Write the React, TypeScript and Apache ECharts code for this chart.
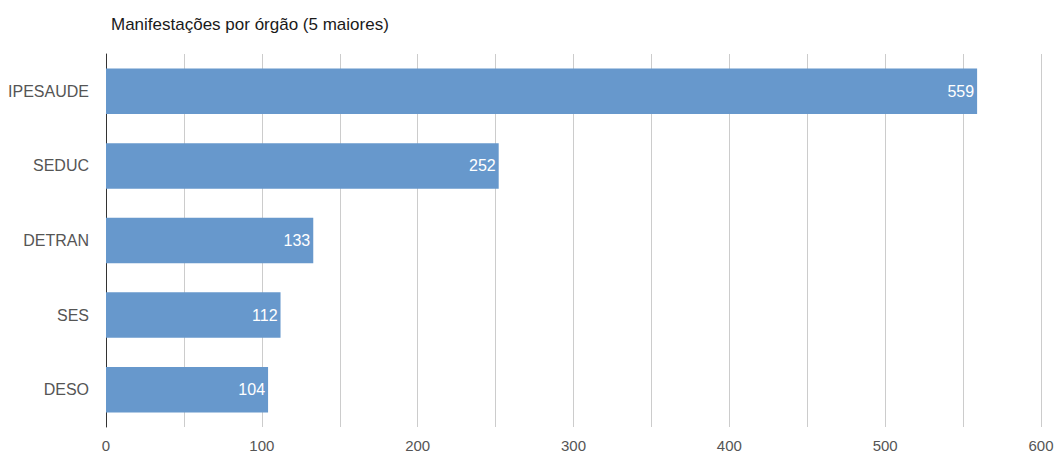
import React, { useEffect, useRef } from "react";
import * as echarts from "echarts";

const titleText = "Manifestações por órgão (5 maiores)";
const categories = ["IPESAUDE", "SEDUC", "DETRAN", "SES", "DESO"];
const values = [559, 252, 133, 112, 104];
const xMin = 0;
const xMax = 600;
const xStep = 50;

export default function App() {
  const ref = useRef<HTMLDivElement>(null);
  useEffect(() => {
    if (!ref.current) return;
    const chart = echarts.init(ref.current, undefined, { renderer: "svg" });
    chart.setOption({
      animation: false,
      backgroundColor: "#ffffff",
      title: {
        text: titleText,
        left: 106,
        top: 11,
        textStyle: {
          fontFamily: "Liberation Sans, Arial, sans-serif",
          fontSize: 17,
          fontWeight: "normal",
          color: "#1a1a1a",
        },
      },
      grid: { left: 106, right: 16, top: 54, bottom: 25, containLabel: false },
      xAxis: {
        type: "value",
        min: xMin,
        max: xMax,
        interval: xStep,
        axisLine: { show: false },
        axisTick: { show: false },
        splitLine: { show: true, lineStyle: { color: "#cccccc", width: 1 } },
        axisLabel: {
          margin: 11,
          color: "#555555",
          fontFamily: "Liberation Sans, Arial, sans-serif",
          fontSize: 15,
          formatter: (v: number) => (v % 100 === 0 ? String(v) : ""),
        },
      },
      yAxis: {
        type: "category",
        data: categories,
        inverse: true,
        axisLine: { show: true, lineStyle: { color: "#333333", width: 1 } },
        axisTick: { show: false },
        splitLine: { show: false },
        axisLabel: {
          margin: 17,
          color: "#555555",
          fontFamily: "Liberation Sans, Arial, sans-serif",
          fontSize: 16,
        },
      },
      series: [
        {
          type: "bar",
          data: values,
          barWidth: "61%",
          itemStyle: { color: "#6798cc" },
          label: {
            show: true,
            position: "insideRight",
            distance: 3,
            color: "#ffffff",
            fontFamily: "Liberation Sans, Arial, sans-serif",
            fontSize: 16,
          },
        },
      ],
    });
    return () => chart.dispose();
  }, []);
  return (
    <div
      ref={ref}
      style={{ position: "absolute", left: 0, top: 0, width: 1057, height: 453 }}
    />
  );
}
